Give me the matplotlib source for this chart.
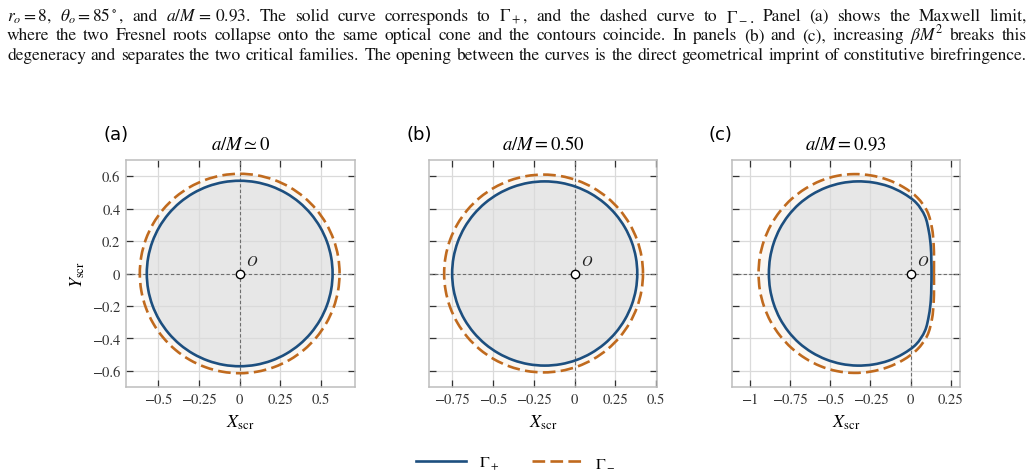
import re
import numpy as np
import matplotlib
matplotlib.use("Agg")
import matplotlib.pyplot as plt
from matplotlib.lines import Line2D
from matplotlib.patches import PathPatch
from matplotlib.path import Path
from matplotlib.ticker import FuncFormatter

plt.rcParams["font.family"] = "STIXGeneral"
plt.rcParams["mathtext.fontset"] = "stix"

W, H = 1031, 477

# caption lines still visible in the picture
CAPTION = [
    r"$r_o = 8$, $\theta_o = 85^\circ$, and $a/M\,=\,0.93$. The solid curve corresponds to $\Gamma_+$, and the dashed curve to $\Gamma_-$. Panel (a) shows the Maxwell limit,",
    r"where the two Fresnel roots collapse onto the same optical cone and the contours coincide. In panels (b) and (c), increasing $\beta M^2$ breaks this",
    r"degeneracy and separates the two critical families. The opening between the curves is the direct geometrical imprint of constitutive birefringence.",
]
CAPTION_BASELINES = [21, 40.5, 60]

PANEL_TAGS = ["(a)", "(b)", "(c)"]
PANEL_TITLES = [r"$a/M \simeq 0$", r"$a/M = 0.50$", r"$a/M = 0.93$"]
X_TICKS = [
    [-0.5, -0.25, 0, 0.25, 0.5],
    [-0.75, -0.5, -0.25, 0, 0.25, 0.5],
    [-1, -0.75, -0.5, -0.25, 0, 0.25],
]
Y_TICKS = [-0.6, -0.4, -0.2, 0, 0.2, 0.4, 0.6]
X_LIMS = [(-0.70, 0.71), (-0.893, 0.506), (-1.112, 0.306)]
Y_LIM = (-0.70, 0.70)

# contours: radius from a centre on the X axis, upper half, mirrored below
ANGLES_DEG = [0, 10, 20, 30, 40, 50, 60, 70, 80, 90,
              100, 110, 120, 130, 140, 150, 160, 170, 180]
CENTRE_PLUS = [0.0, -0.183, -0.333]
CENTRE_MINUS = [0.0, -0.190, -0.353]
R_PLUS = [
    [0.572] * 19,
    [0.568] * 19,
    [0.462, 0.468, 0.487, 0.515, 0.550, 0.570, 0.572, 0.572, 0.570, 0.568,
     0.566, 0.564, 0.562, 0.560, 0.557, 0.554, 0.551, 0.549, 0.548],
]
R_MINUS = [
    [0.615] * 19,
    [0.610] * 19,
    [0.497, 0.505, 0.527, 0.560, 0.595, 0.612, 0.615, 0.615, 0.614, 0.613,
     0.611, 0.608, 0.604, 0.601, 0.598, 0.596, 0.594, 0.593, 0.592],
]

AX_LEFT_PX = [126, 429, 731.7]
AX_W_PX = [229, 228, 228.3]
AX_TOP_PX, AX_BOT_PX = 161, 388

C_PLUS = "#1d4f7f"
C_MINUS = "#c06a1e"
FILL_IN = "#e7e7e7"
FILL_RING = "#fbf7f2"
DASH = (4.8, 2.0)


def contour_path(cx, radii):
    th = np.deg2rad(ANGLES_DEG)
    r = np.asarray(radii)
    x = np.concatenate([cx + r * np.cos(th), (cx + r * np.cos(th))[-2:0:-1]])
    y = np.concatenate([r * np.sin(th), -(r * np.sin(th))[-2:0:-1]])
    p = np.column_stack([x, y])
    n = len(p)
    # closed smooth curve through the points (Catmull-Rom as cubic Beziers)
    verts, codes = [p[0]], [Path.MOVETO]
    for i in range(n):
        p0, p1, p2, p3 = p[i - 1], p[i], p[(i + 1) % n], p[(i + 2) % n]
        verts += [p1 + (p2 - p0) / 6, p2 - (p3 - p1) / 6, p2]
        codes += [Path.CURVE4] * 3
    return Path(verts, codes)


def fmt(v, _):
    if abs(v) < 1e-9:
        return "0"
    return f"{v:g}".replace("-", "\u2212")


fig = plt.figure(figsize=(W / 100, H / 100), dpi=100)

for i in range(3):
    ax = fig.add_axes([AX_LEFT_PX[i] / W, 1 - AX_BOT_PX / H,
                       AX_W_PX[i] / W, (AX_BOT_PX - AX_TOP_PX) / H])
    pm = contour_path(CENTRE_MINUS[i], R_MINUS[i])
    pp = contour_path(CENTRE_PLUS[i], R_PLUS[i])
    ax.add_patch(PathPatch(pm, facecolor=FILL_RING, edgecolor="none", zorder=0.2))
    ax.add_patch(PathPatch(pp, facecolor=FILL_IN, edgecolor="none", zorder=0.3))
    ax.add_patch(PathPatch(pm, fill=False, edgecolor=C_MINUS, lw=1.9,
                           linestyle=(0, DASH), zorder=3))
    ax.add_patch(PathPatch(pp, fill=False, edgecolor=C_PLUS, lw=1.9, zorder=3.1))

    ax.axhline(0, color="#6e6e6e", lw=0.8, dashes=(3, 2), zorder=1)
    ax.axvline(0, color="#6e6e6e", lw=0.8, dashes=(3, 2), zorder=1)
    ax.plot([0], [0], "o", ms=6, mfc="white", mec="black", mew=1.0, zorder=5)
    ax.annotate(r"$O$", (0, 0), xytext=(9, 9), textcoords="offset points",
                ha="center", va="center", fontsize=10.5, color="#222222")

    ax.set_xlim(*X_LIMS[i])
    ax.set_ylim(*Y_LIM)
    ax.set_xticks(X_TICKS[i])
    ax.set_yticks(Y_TICKS)
    ax.xaxis.set_major_formatter(FuncFormatter(fmt))
    ax.yaxis.set_major_formatter(FuncFormatter(fmt))
    ax.tick_params(direction="in", length=5, width=0.9, color="#333333",
                   top=True, right=True, labelsize=10.5, labelcolor="#333333", pad=4)
    if i > 0:
        ax.tick_params(labelleft=False)
    ax.set_axisbelow(True)
    ax.grid(True, color="#dadada", lw=0.9)
    for sp in ax.spines.values():
        sp.set_color("#bdbdbd")
        sp.set_linewidth(1.1)

    ax.set_title(PANEL_TITLES[i], fontsize=13.5, pad=8)
    ax.text(-0.10, 1.155, PANEL_TAGS[i], transform=ax.transAxes,
            ha="left", va="top", fontsize=13, family="DejaVu Sans")
    ax.set_xlabel(r"$X_{\rm scr}$", fontsize=13, labelpad=5)
    if i == 0:
        ax.set_ylabel(r"$Y_{\rm scr}$", fontsize=13, labelpad=4)

handles = [
    Line2D([], [], color=C_PLUS, lw=1.9),
    Line2D([], [], color=C_MINUS, lw=1.9, dashes=DASH),
]
fig.legend(handles, [r"$\Gamma_+$", r"$\Gamma_-$"], loc="center",
           bbox_to_anchor=(0.5, 13 / H), ncol=2, frameon=False, fontsize=11.5,
           handlelength=3.1, handletextpad=0.8, columnspacing=2.1)

# justified caption lines
fig.canvas.draw()
renderer = fig.canvas.get_renderer()
LEFT, RIGHT = 7, 1027
for line, base in zip(CAPTION, CAPTION_BASELINES):
    words = re.findall(r"\$[^$]*\$\S*|\S+", line)
    texts = [fig.text(0, 1 - base / H, w, fontsize=12.5, va="baseline",
                      ha="left", color="#111111") for w in words]
    widths = [t.get_window_extent(renderer).width for t in texts]
    gap = (RIGHT - LEFT - sum(widths)) / (len(words) - 1)
    x = LEFT
    for t, w in zip(texts, widths):
        t.set_x(x / W)
        x += w + gap

fig.savefig("out.png", dpi=100)
